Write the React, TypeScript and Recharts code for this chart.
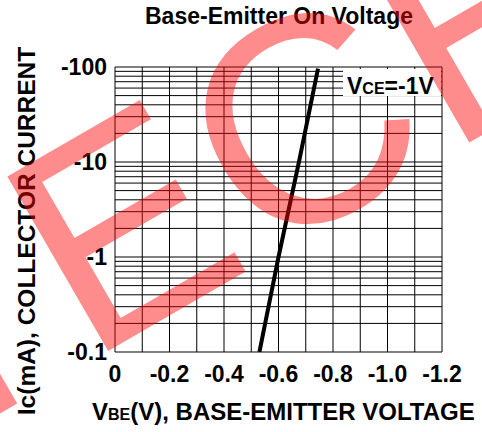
import React from "react";
import { LineChart, Line, XAxis, YAxis, CartesianGrid } from "recharts";

// V_BE (V) and I_C (mA) (both negative, PNP)
const vbeValues = [-0.53, -0.6, -0.675, -0.745];
const icValues = [-0.1, -1, -10, -96];

// grid lines every 0.1 V, labels every 0.2 V
const xGridTicks = [0, 0.1, 0.2, 0.3, 0.4, 0.5, 0.6, 0.7, 0.8, 0.9, 1.0, 1.1, 1.2];
const xTickLabels = ["0", "", "-0.2", "", "-0.4", "", "-0.6", "", "-0.8", "", "-1.0", "", "-1.2"];

// log grid, labels only on decades
const yGridTicks = [
  0.1, 0.2, 0.3, 0.4, 0.5, 0.6, 0.7, 0.8, 0.9,
  1, 2, 3, 4, 5, 6, 7, 8, 9,
  10, 20, 30, 40, 50, 60, 70, 80, 90,
  100,
];
const yTickLabels = [
  "-0.1", "", "", "", "", "", "", "", "",
  "-1", "", "", "", "", "", "", "", "",
  "-10", "", "", "", "", "", "", "", "",
  "-100",
];

const data = vbeValues.map((v, i) => ({ vbe: -v, ic: -icValues[i] }));

const FONT = "'Liberation Sans', Arial, sans-serif";
const tickStyle = { fontSize: 23, fontWeight: 700, fill: "#000", fontFamily: FONT };

export default function App() {
  return (
    <div style={{ position: "absolute", left: 0, top: 0, width: 482, height: 432, background: "#fff" }}>
      <LineChart
        width={482}
        height={432}
        data={data}
        margin={{ top: 67, right: 40, bottom: 50, left: 0 }}
      >
        <CartesianGrid stroke="#000" strokeWidth={1} />
        <XAxis
          dataKey="vbe"
          type="number"
          domain={[0, 1.2]}
          ticks={xGridTicks}
          interval={0}
          tickFormatter={(_v: number, i: number) => xTickLabels[i]}
          tick={tickStyle}
          tickLine={false}
          axisLine={false}
          tickMargin={8}
          height={30}
        />
        <YAxis
          type="number"
          scale="log"
          domain={[0.1, 100]}
          ticks={yGridTicks}
          interval={0}
          allowDataOverflow
          tickFormatter={(_v: number, i: number) => yTickLabels[i]}
          tick={tickStyle}
          tickLine={false}
          axisLine={false}
          width={115}
        />
        <Line
          dataKey="ic"
          type="linear"
          stroke="#000"
          strokeWidth={4}
          dot={false}
          isAnimationActive={false}
        />
      </LineChart>

      <svg
        width={482}
        height={432}
        style={{ position: "absolute", left: 0, top: 0, pointerEvents: "none" }}
      >
        <text x={279} y={24} textAnchor="middle" fontSize={23} fontWeight={700} fontFamily={FONT}>
          Base-Emitter On Voltage
        </text>

        <text
          x={35}
          y={231}
          textAnchor="middle"
          fontSize={24.5}
          fontWeight={700}
          fontFamily={FONT}
          transform="rotate(-90 35 231)"
        >
          Ic(mA), COLLECTOR CURRENT
        </text>

        <text x={92} y={420} fontSize={24} fontWeight={700} fontFamily={FONT}>
          V<tspan fontSize={16}>BE</tspan>(V), BASE-EMITTER VOLTAGE
        </text>

        <rect x={343} y={69} width={98} height={27} fill="#fff" />
        <text x={347} y={94} fontSize={23} fontWeight={700} fontFamily={FONT}>
          V<tspan fontSize={16}>CE</tspan>=-1V
        </text>

        {/* watermark */}
        <text
          x={-72}
          y={455}
          fontSize={293}
          fontFamily={FONT}
          fill="rgba(255,0,0,0.45)"
          letterSpacing={5}
          transform="rotate(-30 -72 455)"
        >
          TECH
        </text>
      </svg>
    </div>
  );
}
